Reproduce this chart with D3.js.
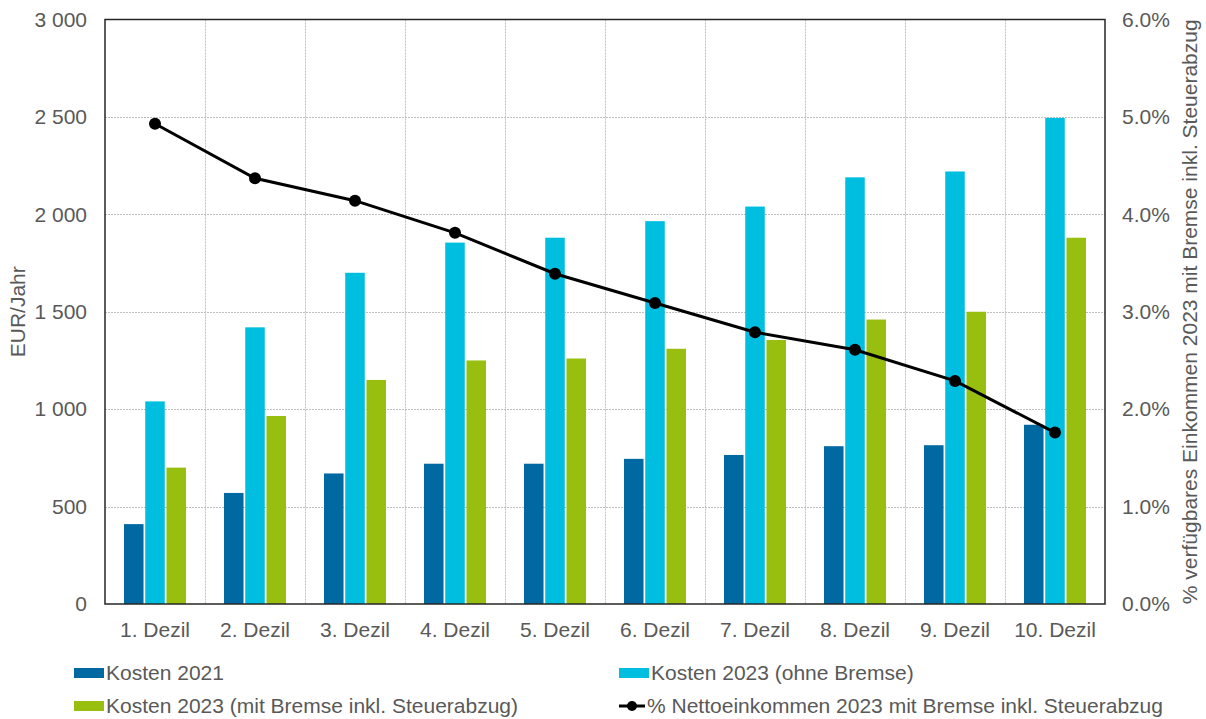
<!DOCTYPE html>
<html>
<head>
<meta charset="utf-8">
<script src="https://cdn.jsdelivr.net/npm/d3@7"></script>
<style>
  html, body { margin: 0; padding: 0; background: #fff; }
  svg { display: block; font-family: "Liberation Sans", Arial, sans-serif; }
</style>
</head>
<body>
<svg id="chart" width="1206" height="719"></svg>
<script>
// Deciles on the x axis
const categories = ["1. Dezil", "2. Dezil", "3. Dezil", "4. Dezil", "5. Dezil",
                    "6. Dezil", "7. Dezil", "8. Dezil", "9. Dezil", "10. Dezil"];

// Annual costs in EUR
const kosten2021 = [410, 570, 670, 720, 720, 745, 765, 810, 815, 920];
const kosten2023Ohne = [1040, 1420, 1700, 1855, 1880, 1965, 2040, 2190, 2220, 2495];
const kosten2023Mit = [700, 965, 1150, 1250, 1260, 1310, 1355, 1460, 1500, 1880];

// Share of net income in percent
const anteilNetto = [4.93, 4.37, 4.14, 3.81, 3.39, 3.09, 2.79, 2.61, 2.29, 1.76];

// Tick values
const leftTicks = [0, 500, 1000, 1500, 2000, 2500, 3000];
const rightTicks = [0, 1, 2, 3, 4, 5, 6];

const seriesNames = ["Kosten 2021", "Kosten 2023 (ohne Bremse)", "Kosten 2023 (mit Bremse inkl. Steuerabzug)"];
const lineName = "% Nettoeinkommen 2023 mit Bremse inkl. Steuerabzug";
const colors = ["#0069A1", "#00BEE0", "#98BF0F"];
const textColor = "#595959";
const fontSize = 21;

const svg = d3.select("#chart");
const plot = { left: 105, right: 1105, top: 19.5, bottom: 604 };

const x = d3.scaleBand().domain(categories).range([plot.left, plot.right]).padding(0);
const inner = d3.scaleBand().domain(d3.range(3)).range([0, 62]).paddingInner(0.08);
const yL = d3.scaleLinear().domain([0, 3000]).range([plot.bottom, plot.top]);
const yR = d3.scaleLinear().domain([0, 6]).range([plot.bottom, plot.top]);

// Grid lines
const grid = svg.append("g").attr("stroke", "#BFBFBF").attr("stroke-width", 1)
  .attr("stroke-dasharray", "2,1");
leftTicks.slice(1, -1).forEach(t => {
  grid.append("line").attr("x1", plot.left).attr("x2", plot.right)
    .attr("y1", Math.round(yL(t)) + 0.5).attr("y2", Math.round(yL(t)) + 0.5);
});
categories.slice(1).forEach(c => {
  const xx = Math.round(x(c)) + 0.5;
  grid.append("line").attr("x1", xx).attr("x2", xx).attr("y1", plot.top).attr("y2", plot.bottom);
});

// Bars
const data = [kosten2021, kosten2023Ohne, kosten2023Mit];
data.forEach((vals, s) => {
  svg.append("g").selectAll("rect").data(vals).join("rect")
    .attr("x", (d, i) => x(categories[i]) + (x.bandwidth() - 62) / 2 + inner(s))
    .attr("width", inner.bandwidth())
    .attr("y", d => yL(d))
    .attr("height", d => yL(0) - yL(d))
    .attr("fill", colors[s]);
});

// Frame
svg.append("rect").attr("x", plot.left).attr("y", plot.top)
  .attr("width", plot.right - plot.left).attr("height", plot.bottom - plot.top)
  .attr("fill", "none").attr("stroke", "#262626").attr("stroke-width", 1.5);

function styleText(g) {
  g.selectAll("text").attr("fill", textColor).attr("font-size", fontSize)
    .attr("font-family", "Liberation Sans, Arial, sans-serif");
}

// Left axis
const axL = svg.append("g").attr("transform", `translate(${plot.left},0)`)
  .call(d3.axisLeft(yL).tickValues(leftTicks).tickSize(0).tickPadding(18)
    .tickFormat(d => d3.format(",")(d).replace(/,/g, " ")));
axL.select(".domain").remove();
styleText(axL);

// Right axis
const axR = svg.append("g").attr("transform", `translate(${plot.right},0)`)
  .call(d3.axisRight(yR).tickValues(rightTicks).tickSize(0).tickPadding(17)
    .tickFormat(d => d.toFixed(1) + "%"));
axR.select(".domain").remove();
styleText(axR);

// Bottom axis
const axB = svg.append("g").attr("transform", `translate(0,${plot.bottom})`)
  .call(d3.axisBottom(x).tickSize(0).tickPadding(18));
axB.select(".domain").remove();
styleText(axB);

// Axis titles
svg.append("text").attr("transform", `translate(25,${(plot.top + plot.bottom) / 2}) rotate(-90)`)
  .attr("text-anchor", "middle").attr("fill", textColor).attr("font-size", fontSize)
  .text("EUR/Jahr");
svg.append("text").attr("transform", `translate(1197,${(plot.top + plot.bottom) / 2}) rotate(-90)`)
  .attr("text-anchor", "middle").attr("fill", textColor).attr("font-size", fontSize)
  .text("% verfügbares Einkommen 2023 mit Bremse inkl. Steuerabzug");

// Line series
const cx = c => x(c) + x.bandwidth() / 2;
svg.append("path").datum(anteilNetto)
  .attr("fill", "none").attr("stroke", "#000").attr("stroke-width", 3)
  .attr("d", d3.line().x((d, i) => cx(categories[i])).y(d => yR(d)));
svg.append("g").selectAll("circle").data(anteilNetto).join("circle")
  .attr("cx", (d, i) => cx(categories[i])).attr("cy", d => yR(d))
  .attr("r", 6).attr("fill", "#000");

// Legend
const legend = svg.append("g").attr("font-size", fontSize).attr("fill", textColor);
const legendItems = [
  { name: seriesNames[0], color: colors[0], x: 74, y: 673, type: "bar" },
  { name: seriesNames[1], color: colors[1], x: 619, y: 673, type: "bar" },
  { name: seriesNames[2], color: colors[2], x: 74, y: 706, type: "bar" },
  { name: lineName, color: "#000", x: 619, y: 706, type: "line" }
];
legendItems.forEach(it => {
  if (it.type === "bar") {
    legend.append("rect").attr("x", it.x).attr("y", it.y - 5).attr("width", 30).attr("height", 10)
      .attr("fill", it.color);
  } else {
    legend.append("line").attr("x1", it.x).attr("x2", it.x + 26).attr("y1", it.y).attr("y2", it.y)
      .attr("stroke", "#000").attr("stroke-width", 3);
    legend.append("circle").attr("cx", it.x + 13).attr("cy", it.y).attr("r", 5).attr("fill", "#000");
  }
  legend.append("text").attr("x", it.x + (it.type === "bar" ? 32 : 28)).attr("y", it.y)
    .attr("dy", "0.35em").text(it.name);
});
</script>
</body>
</html>
